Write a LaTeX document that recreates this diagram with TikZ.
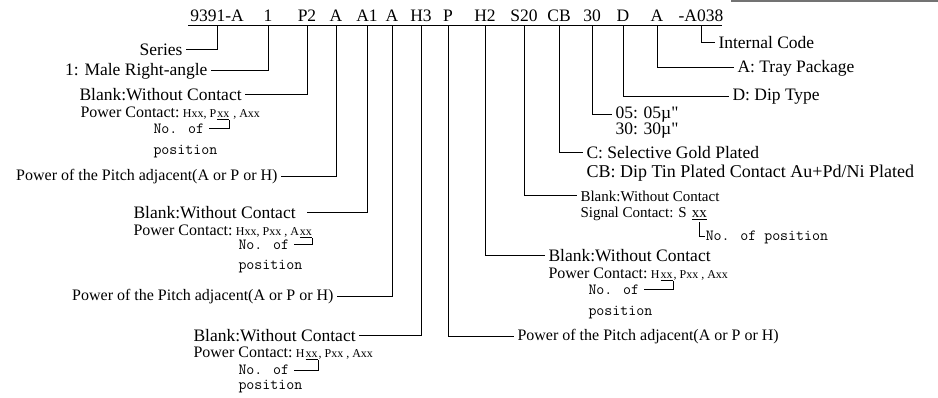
\documentclass[tikz,border=0pt]{standalone}
\usepackage{fontspec}
\setmainfont{Liberation Serif}[Ligatures=TeXOff]
\usetikzlibrary{positioning}
\newcommand{\pxfont}[1]{\fontsize{#1}{#1}\selectfont}

\begin{document}
\begin{tikzpicture}[
    x=1pt, y=-1pt,
    line width=1pt,
    codetxt/.style={
        font=\pxfont{17.5},
        inner sep=0pt,
        anchor=base
    },
    desc/.style={
        font=\pxfont{17.5},
        inner xsep=3pt,
        inner ysep=0pt
    },
    subdesc/.style={
        font=\pxfont{16},
        inner xsep=3pt,
        inner ysep=0pt
    },
    piece/.style={
        inner sep=0pt,
        anchor=base west
    },
    monotxt/.style={
        font=\ttfamily\pxfont{15.5},
        inner xsep=4pt,
        inner ysep=0pt,
        anchor=west
    }
]
\useasboundingbox (0,0) rectangle (938,398);
\fill[black!55] (731,0) rectangle (938,2);

% part number
\foreach \px/\txt [count=\i] in {217/9391-A, 268/1, 307/P2, 336/A, 367/A1,
    392/A, 421/H3, 448/P, 485/H2, 524/S20, 559/CB, 592/30, 623/D, 657/A, 701/-A038}
    \node[codetxt] (c\i) at (\px,22) {\txt};
\draw (188,26) -- (722,26);

% left side
\node[desc, anchor=east] (series) at (186,50) {Series};
\draw (c1.base) ++(0,4) |- (series);

\node[desc, anchor=east] (male) at (211,71) {1: Male Right-angle};
\draw (c2.base) ++(0,4) |- (male);

\node[desc, anchor=west] (blankA) at (76,95) {Blank:Without Contact};
\draw (c3.base) ++(0,4) |- (blankA);
\node[piece] (powA) at (80,118) {{\pxfont{16}Power Contact:} {\pxfont{12}Hxx, P}};
\node[piece, font=\pxfont{12}] (xxA) at (powA.base east) {\underline{xx}};
\node[piece, font=\pxfont{12}] (restA) at (xxA.base east) {~, Axx};
\node[monotxt] (noA) at (149,129) {No. of};
\node[monotxt] (posA) at (149,152) {position};
\draw (xxA.south east) |- (noA);

\node[subdesc, anchor=east] (pitchA) at (281,177) {Power of the Pitch adjacent(A or P or H)};
\draw (c4.base) ++(0,4) |- (pitchA);

\node[desc, anchor=west] (blankB) at (130,213) {Blank:Without Contact};
\draw[shorten >=8pt] (c5.base) ++(0,4) |- (blankB);
\node[piece] (powB) at (133,236) {{\pxfont{16}Power Contact:} {\pxfont{12}Hxx, Pxx , A}};
\node[piece, font=\pxfont{12}] (xxB) at (powB.base east) {\underline{xx}};
\node[monotxt] (noB) at (234,245) {No. of};
\node[monotxt] (posB) at (234,267) {position};
\draw (xxB.south east) |- (noB);

\node[subdesc, anchor=east] (pitchB) at (337,297) {Power of the Pitch adjacent(A or P or H)};
\draw (c6.base) ++(0,4) |- (pitchB);

\node[desc, anchor=west] (blankC) at (190,336) {Blank:Without Contact};
\draw (c7.base) ++(0,4) |- (blankC);
\node[piece] (powC) at (193,358) {{\pxfont{16}Power Contact:} {\pxfont{12}H}};
\node[piece, font=\pxfont{12}] (xxC) at (powC.base east) {\underline{xx}};
\node[piece, font=\pxfont{12}] (restC) at (xxC.base east) {, Pxx , Axx};
\node[monotxt] (noC) at (234,370) {No. of};
\node[monotxt] (posC) at (234,387) {position};
\draw (xxC.south east) |- (noC);

% right side
\node[subdesc, anchor=west] (pitchC) at (514,337) {Power of the Pitch adjacent(A or P or H)};
\draw (c8.base) ++(0,4) |- (pitchC);

\node[desc, anchor=west] (blankD) at (545,256) {Blank:Without Contact};
\draw (c9.base) ++(0,4) |- (blankD);
\node[piece] (powD) at (548,279) {{\pxfont{16}Power Contact:} {\pxfont{12}H}};
\node[piece, font=\pxfont{12}] (xxD) at (powD.base east) {\underline{xx}};
\node[piece, font=\pxfont{12}] (restD) at (xxD.base east) {, Pxx , Axx};
\node[monotxt] (noD) at (584,290) {No. of};
\node[monotxt] (posD) at (584,313) {position};
\draw (xxD.south east) |- (noD);

\node[subdesc, font=\pxfont{15}, anchor=west] (blankE) at (577,196) {Blank:Without Contact};
\draw (c10.base) ++(0,4) |- (blankE);
\node[piece, font=\pxfont{15}] (sigE) at (580,218) {Signal Contact: S\kern4pt};
\node[piece, font=\pxfont{15}] (xxE) at (sigE.base east) {\underline{xx}};
\coordinate (rowE) at (0,237);
\node[monotxt, inner xsep=0pt] (noE) at ([xshift=6pt]xxE.south |- rowE) {No. of position};
\draw[shorten <=2pt] (xxE.south) |- (noE);

\node[desc, anchor=west] (goldF) at (583,153) {C: Selective Gold Plated};
\draw (c11.base) ++(0,4) |- (goldF);
\node[desc, font=\pxfont{18}, anchor=west] (tinF) at (583,173) {CB: Dip Tin Plated Contact Au+Pd/Ni Plated};

\node[desc, anchor=west] (auG) at (612,115) {05: 05µ"};
\node[desc, anchor=west] (auH) at (612,131) {30: 30µ"};
\draw (c12.base) ++(0,4) |- (auG);

\node[desc, anchor=west] (dipI) at (729,97) {D: Dip Type};
\draw (c13.base) ++(0,4) |- (dipI);

\node[desc, anchor=west] (trayJ) at (734,68) {A: Tray Package};
\draw (c14.base) ++(0,4) |- (trayJ);

\node[desc, anchor=west] (codeK) at (715,43) {Internal Code};
\draw (c15.base) ++(0,4) |- (codeK);

\end{tikzpicture}
\end{document}
